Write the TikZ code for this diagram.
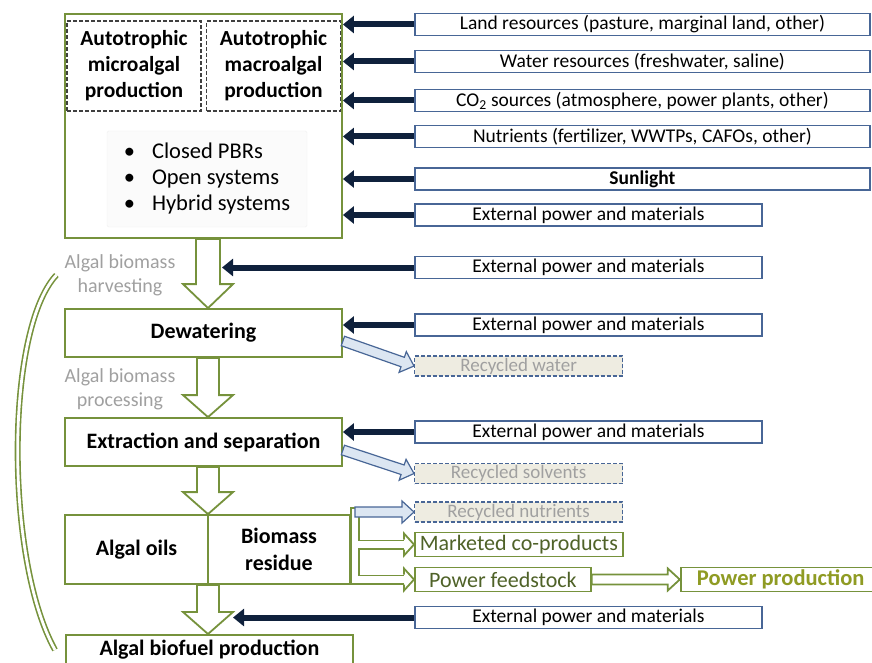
\documentclass[tikz,border=0pt]{standalone}
\usepackage{fontspec}
\setmainfont{Carlito}
\usepackage{tikz}
\usetikzlibrary{
    arrows.meta,
    positioning,
    calc
}
\tikzset{
  stage/.style    = {draw=OliveDark, line width=1.8pt, fill=white, align=center,
                     inner sep=0pt, font=\fontsize{22}{27}\selectfont\bfseries},
  inbox/.style    = {draw=BoxBlue, line width=1.8pt, fill=white, inner sep=0pt,
                     minimum height=22pt, font=\fontsize{19.5}{20}\selectfont},
  recbox/.style   = {draw=BoxBlue, dash pattern=on 4pt off 2pt, line width=1.2pt,
                     fill=Beige, inner sep=0pt, minimum width=208pt,
                     minimum height=20pt, text=LabelGray,
                     font=\fontsize{19}{20}\selectfont},
  outbox/.style   = {draw=OliveDark, line width=1.8pt, fill=white, inner sep=0pt,
                     minimum height=24pt, text=DarkGreen,
                     font=\fontsize{22}{23}\selectfont},
  inarrow/.style  = {-{Triangle[length=11pt,width=17pt]}, line width=6pt, NavyArrow},
  hollow/.style   = {draw=OliveDark, line width=1.8pt, fill=white, line join=miter},
  recarrow/.style = {draw=BoxBlue, line width=1.2pt, fill=LightBlue, line join=miter},
  pipe/.style     = {draw=OliveDark, line width=10pt, line cap=rect,
                     postaction={draw=white, line width=6.4pt}}
}
\definecolor{OliveDark}{RGB}{118,146,60}
\definecolor{DarkGreen}{RGB}{79,98,40}
\definecolor{Olive}{RGB}{143,155,35}
\definecolor{BoxBlue}{RGB}{72,102,150}
\definecolor{NavyArrow}{RGB}{15,33,60}
\definecolor{LightBlue}{RGB}{220,230,242}
\definecolor{Beige}{RGB}{238,236,225}
\definecolor{LabelGray}{RGB}{160,160,160}

% block arrow: style, from, to, half shaft, half head, head length
\newcommand{\blockarrow}[6][]{%
  \coordinate (ba-h) at ($(#3)!#6!(#2)$);
  \draw[#1] ($(#2)!#4!90:(#3)$) -- ($(ba-h)!#4!90:(#3)$) -- ($(ba-h)!#5!90:(#3)$)
    -- (#3) -- ($(ba-h)!#5!-90:(#3)$) -- ($(ba-h)!#4!-90:(#3)$)
    -- ($(#2)!#4!-90:(#3)$) -- cycle;
}
% open head on the end of a pipe: style, base, tip
\newcommand{\pipetip}[3][]{%
  \filldraw[#1] ($(#2)!5pt!90:(#3)$) -- ($(#2)!11pt!90:(#3)$) -- (#3)
    -- ($(#2)!11pt!-90:(#3)$) -- ($(#2)!5pt!-90:(#3)$);
}

\begin{document}
\begin{tikzpicture}[x=1pt, y=-1pt,
    subbox/.style  = {draw=black!75, dash pattern=on 4pt off 2pt, line width=1.2pt,
                      minimum width=134pt, minimum height=90pt, inner sep=0pt,
                      align=center, font=\fontsize{21.5}{26}\selectfont\bfseries},
    sysbox/.style  = {draw=gray!12, fill=gray!3, rounded corners=2pt,
                      minimum width=200pt, minimum height=96pt, align=left,
                      font=\fontsize{22.5}{26}\selectfont},
    flowlbl/.style = {align=center, text=LabelGray, inner sep=2pt,
                      font=\fontsize{20}{24}\selectfont},
  ]
  \useasboundingbox (0,0) rectangle (872,663);

  % cultivation
  \node[stage, minimum width=277pt, minimum height=224pt] (top) at (203.5,126) {};
  \node[subbox] (micro) at (134,66) {Autotrophic\\microalgal\\production};
  \node[subbox] (macro) at (273.5,66) {Autotrophic\\macroalgal\\production};
  \node[sysbox] (sys) at (207,179) {\begin{tabular}{@{}l@{\hspace{17pt}}l@{}}
      \textbullet & Closed PBRs\\
      \textbullet & Open systems\\
      \textbullet & Hybrid systems
    \end{tabular}};

  % resources
  \node[inbox, minimum width=455pt, anchor=west] (land)  at (414,24.5)  {Land resources (pasture, marginal land, other)};
  \node[inbox, minimum width=455pt, anchor=west] (water) at (414,61.5)  {Water resources (freshwater, saline)};
  \node[inbox, minimum width=455pt, anchor=west] (co2)   at (414,100.5) {CO\textsubscript{2} sources (atmosphere, power plants, other)};
  \node[inbox, minimum width=455pt, anchor=west] (nutr)  at (414,136.5) {Nutrients (fertilizer, WWTPs, CAFOs, other)};
  \node[inbox, minimum width=455pt, anchor=west] (sun)   at (414,179)   {\textbf{Sunlight}};
  \node[inbox, minimum width=347pt, anchor=west] (ext1)  at (414,215)   {External power and materials};
  \node[inbox, minimum width=347pt, anchor=west] (ext2)  at (414,267.5) {External power and materials};
  \node[inbox, minimum width=347pt, anchor=west] (ext3)  at (414,325)   {External power and materials};
  \node[inbox, minimum width=347pt, anchor=west] (ext4)  at (414,432)   {External power and materials};
  \node[inbox, minimum width=347pt, anchor=west] (ext5)  at (414,617.5) {External power and materials};

  % process chain
  \node[stage, minimum width=277pt, minimum height=48pt] (dew)  at (203.5,333) {Dewatering};
  \node[stage, minimum width=277pt, minimum height=48pt] (extr) at (203.5,442) {Extraction and separation};
  \node[stage, minimum width=143pt, minimum height=69pt] (oils)  at (136.5,549.5) {Algal oils};
  \node[stage, minimum width=142pt, minimum height=69pt] (resid) at (279,549.5) {Biomass\\residue};
  \node[stage, minimum width=287pt, minimum height=30pt, anchor=north west] (fuel) at (65,634) {Algal biofuel production};

  \node[flowlbl] (harvlbl) at (120,275) {Algal biomass\\harvesting};
  \node[flowlbl] (proclbl) at (120,389) {Algal biomass\\processing};

  % outputs
  \node[recbox, anchor=west] (rwater) at (414,366)   {Recycled water};
  \node[recbox, anchor=west] (rsolv)  at (414,473.5) {Recycled solvents};
  \node[recbox, anchor=west] (rnut)   at (414,512)   {Recycled nutrients};
  \node[outbox, minimum width=208pt, anchor=west] (mark)  at (414,544.5) {Marketed co-products};
  \node[outbox, minimum width=176pt, anchor=west] (pfeed) at (414,579.5) {Power feedstock};
  \node[outbox, minimum width=200pt, right=88pt of pfeed, text=Olive,
        font=\fontsize{22.5}{23}\selectfont\bfseries] (pprod) {Power production};

  % main flow
  \coordinate (spine) at (208,0);
  \coordinate (h1) at (spine |- top.south);
  \coordinate (h2) at (spine |- dew.north);
  \coordinate (p1) at (spine |- dew.south);
  \coordinate (p2) at (spine |- extr.north);
  \coordinate (e1) at (spine |- extr.south);
  \coordinate (e2) at (spine |- oils.north);
  \coordinate (f1) at (spine |- oils.south);
  \coordinate (f2) at (spine |- fuel.north);
  \blockarrow[hollow]{h1}{h2}{12pt}{25pt}{24pt}
  \blockarrow[hollow]{p1}{p2}{11pt}{25pt}{22pt}
  \blockarrow[hollow]{e1}{e2}{11pt}{25pt}{22pt}
  \blockarrow[hollow]{f1}{f2}{11pt}{25pt}{22pt}

  % inputs
  \foreach \src in {land,water,co2,nutr,sun,ext1}
    \draw[inarrow] (\src.west) -- (\src.west -| top.east);
  \coordinate (hshaft) at ($(h1)+(14,0)$);
  \coordinate (fhead)  at ($(f1)+(25,0)$);
  \draw[inarrow] (ext2.west) -- (ext2.west -| hshaft);
  \draw[inarrow] (ext3.west) -- (ext3.west -| dew.east);
  \draw[inarrow] (ext4.west) -- (ext4.west -| extr.east);
  \draw[inarrow] (ext5.west) -- (ext5.west -| fhead);

  % recycled streams
  \coordinate (rw1) at ([yshift=-8pt]dew.east);
  \coordinate (rs1) at ([yshift=-8pt]extr.east);
  \blockarrow[recarrow]{rw1}{rwater.west}{5pt}{11pt}{12pt}
  \blockarrow[recarrow]{rs1}{rsolv.west}{5pt}{11pt}{12pt}

  % residue branches
  \coordinate (bx) at ($(resid.east)+(4,0)$);
  \coordinate (mk) at ([xshift=-10pt]mark.west);
  \coordinate (pf) at ([xshift=-10pt]pfeed.west);
  \draw[pipe] (bx |- rnut.west) -- (bx |- pfeed.west)
              (bx |- mark.west) -- (mk)
              (bx |- pfeed.west) -- (pf);
  \pipetip[hollow]{mk}{mark.west}
  \pipetip[hollow]{pf}{pfeed.west}
  \blockarrow[recarrow]{bx |- rnut.west}{rnut.west}{5pt}{11pt}{12pt}
  \blockarrow[hollow]{pfeed.east}{pprod.west}{5pt}{11pt}{12pt}

  % loop back to harvesting
  \draw[draw=OliveDark, line width=6pt, postaction={draw=white, line width=2.8pt}]
    ([xshift=-10pt]fuel.west) .. controls (5,560) and (5,330) .. ([xshift=-6pt]harvlbl.west);
\end{tikzpicture}
\end{document}
